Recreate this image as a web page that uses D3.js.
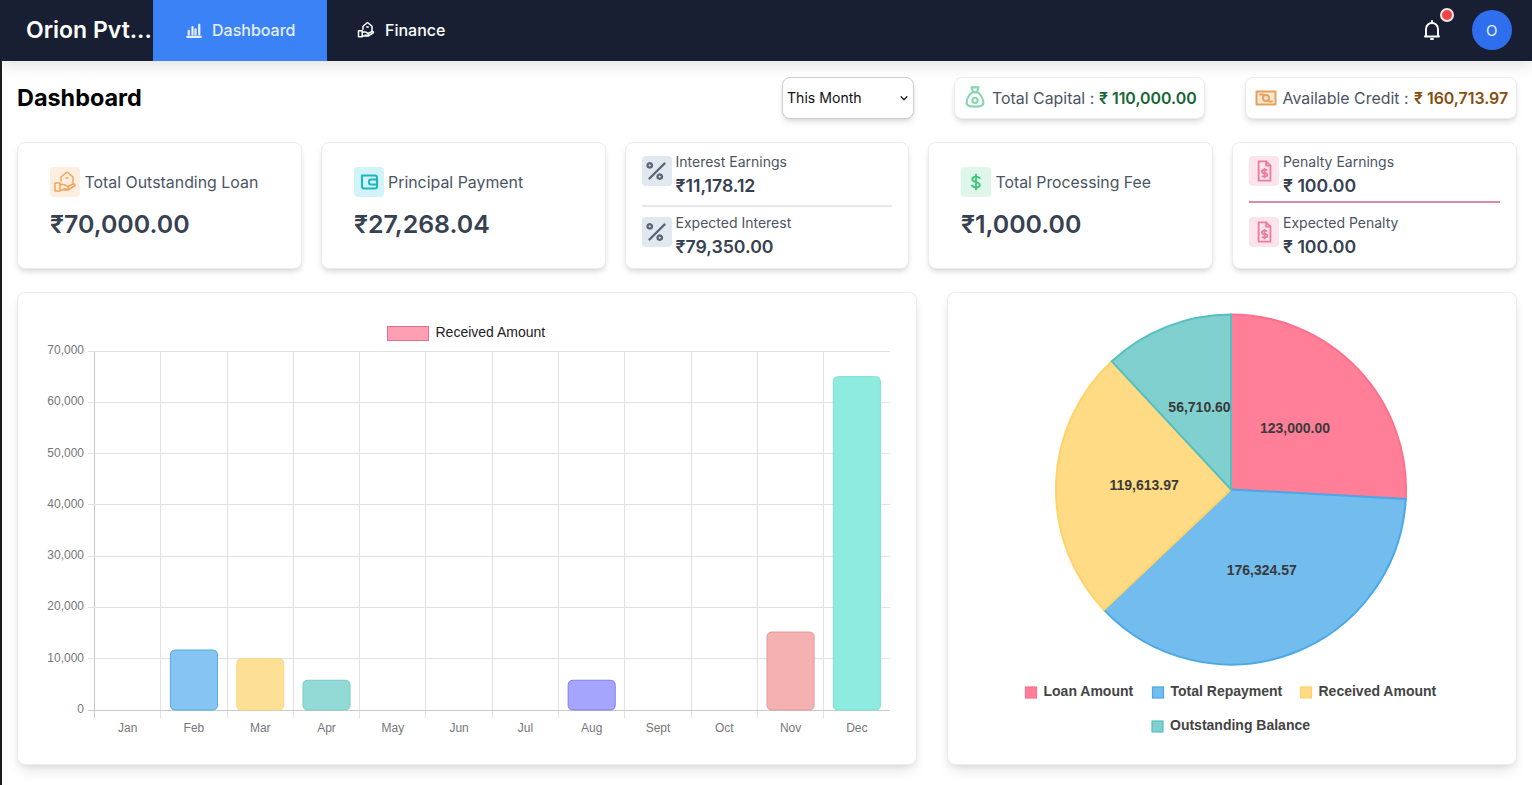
<!DOCTYPE html>
<html><head><meta charset="utf-8"><title>Dashboard</title>
<script src="https://cdn.jsdelivr.net/npm/d3@7/dist/d3.min.js"></script>
<style>
html,body{margin:0;padding:0;width:1532px;height:785px;overflow:hidden;background:#fff;font-family:Inter,"Noto Sans",sans-serif;color:#374151}
#page{position:relative;width:1532px;height:785px;overflow:hidden}
.a{position:absolute;white-space:nowrap;line-height:1}
.card{position:absolute;box-sizing:border-box;background:#fff;border:1px solid #ececf0;border-radius:8px;box-shadow:0 4px 6px -1px rgba(0,0,0,.12),0 2px 4px -2px rgba(0,0,0,.08)}
.ico{position:absolute;border-radius:4px;display:block}
svg text{font-family:"Liberation Sans",Arial,sans-serif}
</style></head><body><div id="page"></div>
<script>
const months=["Jan","Feb","Mar","Apr","May","Jun","Jul","Aug","Sept","Oct","Nov","Dec"];
const receivedValues=[0,11700,10000,5800,0,0,0,5800,0,0,15200,65000];
const barFills=["#ff9fb3","#85c4f3","#fde093","#93d9d6","#c9b3ff","#ffc9a0","#ccc","#a5a5fd","#ffc9a0","#ccc","#f5b0b2","#8decdf"];
const barStrokes=["#ff6384","#5aa9e0","#f9d889","#7ccbc8","#9966ff","#ff9f40","#aaa","#7f7fe8","#ff9f40","#aaa","#e09a9c","#7ee0d3"];
const yTicks=[0,10000,20000,30000,40000,50000,60000,70000];
const pieLabels=["Loan Amount","Total Repayment","Received Amount","Outstanding Balance"];
const pieValues=[123000,176324.57,119613.97,56710.60];
const pieFills=["#ff7f99","#72bcee","#ffdb85","#80d0d0"];
const pieStrokes=["#ff6f8e","#4aa8e6","#ffd36a","#56bfbf"];
const cardTitles=["Total Outstanding Loan","Principal Payment","Interest Earnings","Expected Interest","Total Processing Fee","Penalty Earnings","Expected Penalty"];
const cardValues=["₹70,000.00","₹27,268.04","₹11,178.12","₹79,350.00","₹1,000.00","₹ 100.00","₹ 100.00"];

const page=d3.select("#page");
function div(cls,s){const d=page.append("div").attr("class",cls);Object.entries(s||{}).forEach(([k,v])=>d.style(k,v));return d;}
function txt(t,x,y,size,weight,color,extra){
  return div("a",Object.assign({left:x+"px",top:y+"px","font-size":size+"px","font-weight":weight,color:color},extra||{})).text(t);
}
function icon(x,y,w,h,bg,stroke,paths,sw,vb,fill){
  const s=page.append("svg").attr("class","ico").attr("viewBox",vb||"0 0 24 24")
    .style("left",x+"px").style("top",y+"px").attr("width",w).attr("height",h).style("background",bg);
  paths.forEach(p=>s.append("path").attr("d",p).attr("fill",fill||"none").attr("stroke",stroke).attr("stroke-width",sw||1.6).attr("stroke-linecap","round").attr("stroke-linejoin","round"));
  return s;
}
const homeHand=["M2 13h5v8H2z","M7 14.5h4l4 2.2a1.3 1.3 0 0 1-1 2.3h-3.5","M7 20h8l7-4.5a1.5 1.5 0 0 0-2-1.5l-5 2.5","M8 11V7l6-5 6 5v6","M13 8h2"];
const pct=["M6 18L18 6","M8 7.5a1.8 1.8 0 1 0 0 .01","M16 16.5a1.8 1.8 0 1 0 0 .01"];
const doc=["M7 3h7l4 4v14H7z","M14 3v4h4","M14.5 11h-3a1 1 0 0 0 0 3h2a1 1 0 0 1 0 3h-3M12.5 10v8"];

// nav
div("a",{left:"0",top:"0",width:"1532px",height:"61px",background:"#181f33","box-shadow":"0 4px 14px rgba(0,0,0,.12)"});
div("a",{left:"0",top:"61px",width:"2px",height:"724px",background:"#1d1a20"});
div("a",{left:"153px",top:"0",width:"174px",height:"61px",background:"#3b82f6"});
txt("Orion Pvt...",26,18.5,23,600,"#fff");
txt("Dashboard",212,22,16,500,"#e6efff");
txt("Finance",385,22,16,500,"#fff");
icon(185,21,18,18,"none","#e6efff",["M3 21h18","M5 18v-5","M10 18V8","M14 18v-7","M19 18V5"],3);
icon(357,21,18,18,"none","#fff",homeHand,2);
icon(1420,18,24,24,"none","#fff",["M6 17V11a6 6 0 0 1 12 0v6l1 1.5H5z","M12 3v2","M11 21h2"],1.9);
div("a",{left:"1440px",top:"8px",width:"10px",height:"10px","border-radius":"50%",background:"#ef4444",border:"2px solid #f5e6e6"});
div("a",{left:"1472px",top:"10px",width:"40px",height:"40px","border-radius":"50%",background:"#2f6fed"});
txt("O",1486,23,15,400,"#e6efff");

// header row
txt("Dashboard",17,86,23.4,700,"#000");
div("card",{left:"782px",top:"77px",width:"132px",height:"42px","border-color":"#c9ccd1"});
txt("This Month",787,91,14.1,400,"#111");
icon(897,91,14,14,"none","#222",["M7 10l5 5 5-5"],2.4);
div("card",{left:"954px",top:"77px",width:"251px",height:"42px"});
icon(963,85,24,24,"none","#86d8ac",["M9 4h6l-1.5 4h-3z","M10 8c-3 2-5 6-5 9 0 2 2 3 7 3s7-1 7-3c0-3-2-7-5-9z","M12 17a2.2 2.2 0 1 0 0-4.4 2.2 2.2 0 0 0 0 4.4z"],1.8,"3 2 18 20");
txt("Total Capital : ",992,91,15.9,400,"#4b5563");
txt("₹ 110,000.00",1099,91,15.9,600,"#166534");
div("card",{left:"1245px",top:"77px",width:"272px",height:"42px"});
icon(1254,86,24,24,"none","#e5a15d",["M2.5 5.5h19v13h-19z"],2,"0 0 24 24","#f9e7d0");
icon(1254,86,24,24,"none","#e5a15d",["M6 8.5h3M18 15.5h-3","M12 15a3 3 0 1 0 0-6 3 3 0 0 0 0 6z"],1.9);
txt("Available Credit : ",1282.5,91,15.9,400,"#4b5563");
txt("₹ 160,713.97",1414,91,15.9,600,"#854d0e");

// stat cards
[[17,285],[321,285],[625,284],[928,285],[1232,285]].forEach(([x,w])=>div("card",{left:x+"px",top:"142px",width:w+"px",height:"127px"}));
// card 1
icon(50,167,30,30,"#feeee0","#f3a45c",homeHand,1.5,"-3 -3 30 30");
txt(cardTitles[0],84.5,175,15.9,400,"#4b5563");
txt(cardValues[0],50,212,24.9,600,"#374151");
// card 2
icon(354,167,30,30,"#d2f3f8","#1fb5c2",["M5 6h13a2 2 0 0 1 2 2v9a2 2 0 0 1-2 2H7a2 2 0 0 1-2-2z","M20 10h-6a2 2 0 0 0-2 2v1a2 2 0 0 0 2 2h6z"],2.1,"-3 -2.5 30 30");
txt(cardTitles[1],388,175,15.9,400,"#4b5563");
txt(cardValues[1],354,212,24.9,600,"#374151");
// card 3
icon(642,156,30,30,"#e2e8f0","#5a6472",pct,1.9);
txt(cardTitles[2],675.5,155,14,400,"#4b5563");
txt(cardValues[2],675.5,176.5,17.7,600,"#374151");
div("a",{left:"642px",top:"205px",width:"250px",height:"2px",background:"#e5e7eb"});
icon(642,217,30,30,"#e2e8f0","#5a6472",pct,1.9);
txt(cardTitles[3],675.5,216,14,400,"#4b5563");
txt(cardValues[3],675.5,237.5,17.7,600,"#374151");
// card 4
icon(961,167,30,30,"#dff7e8","#3cc47c",["M12 3v18","M16.5 7.5C15.5 6 14 5.5 12 5.5c-2.5 0-4.5 1.2-4.5 3.2 0 4.5 9 2.4 9 6.8 0 2-2 3-4.5 3-2.2 0-3.9-.7-4.8-2.2"],2.2,"-6 -6 36 36");
txt(cardTitles[4],995.5,175,15.8,400,"#4b5563");
txt(cardValues[4],961,212,24.9,600,"#374151");
// card 5
icon(1249,156,30,30,"#fde3ec","#ea7d9e",doc,1.7,"-2 -2 28 28");
txt(cardTitles[5],1283,155,14,400,"#4b5563");
txt(cardValues[5],1283,176.5,17.7,600,"#374151");
div("a",{left:"1249px",top:"201px",width:"251px",height:"2px",background:"#d98da5"});
icon(1249,217,30,30,"#fde3ec","#ea7d9e",doc,1.7,"-2 -2 28 28");
txt(cardTitles[6],1283,216,14,400,"#4b5563");
txt(cardValues[6],1283,237.5,17.7,600,"#374151");

// chart cards
div("card",{left:"17px",top:"292px",width:"900px",height:"473px","box-shadow":"0 8px 14px -4px rgba(0,0,0,.13),0 2px 4px rgba(0,0,0,.05)"});
div("card",{left:"947px",top:"292px",width:"570px",height:"473px","box-shadow":"0 8px 14px -4px rgba(0,0,0,.13),0 2px 4px rgba(0,0,0,.05)"});

const svg=page.append("svg").attr("width",1532).attr("height",785).style("position","absolute").style("left",0).style("top",0);

// bar chart
const x=d3.scaleBand().domain(months).range([94.5,890]).paddingInner(0).paddingOuter(0);
const y=d3.scaleLinear().domain([0,70000]).range([710,351]);
const g=svg.append("g");
g.selectAll(".vg").data(months.map(m=>x(m))).join("line")
  .attr("x1",d=>d).attr("x2",d=>d).attr("y1",351).attr("y2",718)
  .attr("stroke",(d,i)=>i==0?"#c9c9c9":"#e2e2e2").attr("shape-rendering","crispEdges");
g.selectAll(".hg").data(yTicks).join("line")
  .attr("x1",88).attr("x2",890).attr("y1",d=>y(d)).attr("y2",d=>y(d))
  .attr("stroke",d=>d==0?"#c9c9c9":"#e2e2e2").attr("shape-rendering","crispEdges");
g.selectAll(".yt").data(yTicks).join("text")
  .attr("x",84).attr("y",d=>y(d)+3).attr("text-anchor","end").attr("font-size",12).attr("fill","#777")
  .text(d=>d3.format(",")(d));
g.selectAll(".xt").data(months).join("text")
  .attr("x",d=>x(d)+x.bandwidth()/2).attr("y",732).attr("text-anchor","middle").attr("font-size",12).attr("fill","#777")
  .text(d=>d);
const bw=x.bandwidth()*0.71;
function barPath(x0,w,top,bot,r){
  r=Math.min(r,(bot-top)/2);
  return `M${x0+r},${top}H${x0+w-r}Q${x0+w},${top} ${x0+w},${top+r}V${bot-r}Q${x0+w},${bot} ${x0+w-r},${bot}H${x0+r}Q${x0},${bot} ${x0},${bot-r}V${top+r}Q${x0},${top} ${x0+r},${top}Z`;
}
g.selectAll(".bar").data(months.map((m,i)=>({m,v:receivedValues[i],i})).filter(d=>d.v>0)).join("path")
  .attr("d",d=>barPath(x(d.m)+(x.bandwidth()-bw)/2,bw,y(d.v),710,5))
  .attr("fill",d=>barFills[d.i]).attr("stroke",d=>barStrokes[d.i]).attr("stroke-width",1);
g.append("rect").attr("x",387.5).attr("y",326.5).attr("width",41).attr("height",14).attr("fill","#ff9fb3").attr("stroke","#e0708a");
g.append("text").attr("x",435.5).attr("y",337).attr("font-size",14).attr("fill","#222").text("Received Amount");

// pie
const cx=1231,cy=489.5,R=175;
const pie=d3.pie().sort(null).value(d=>d)(pieValues);
const arc=d3.arc().innerRadius(0).outerRadius(R);
const pg=svg.append("g").attr("transform",`translate(${cx},${cy})`);
pg.selectAll("path").data(pie).join("path").attr("d",arc)
  .attr("fill",(d,i)=>pieFills[i]).attr("stroke",(d,i)=>pieStrokes[i]).attr("stroke-width",2);
pg.selectAll("text").data(pie).join("text")
  .attr("transform",d=>{const c=arc.centroid(d);return `translate(${c[0]+0.5},${c[1]+3.5})`;})
  .attr("text-anchor","middle").attr("font-size",14).attr("font-weight",700).attr("fill","#3a3a3a")
  .text(d=>d3.format(",.2f")(d.value));

// pie legend
const legX=[1025.5,1152.5,1300.5,1152],legY=[687,687,687,721];
const lg=svg.append("g");
lg.selectAll("rect").data(pieLabels).join("rect")
  .attr("x",(d,i)=>legX[i]).attr("y",(d,i)=>legY[i]).attr("width",11).attr("height",11)
  .attr("fill",(d,i)=>pieFills[i]).attr("stroke",(d,i)=>pieStrokes[i]).attr("stroke-width",1.2);
lg.selectAll("text").data(pieLabels).join("text")
  .attr("x",(d,i)=>legX[i]+18).attr("y",(d,i)=>legY[i]+9).attr("font-size",14).attr("font-weight",700).attr("fill","#444")
  .text(d=>d);
</script></body></html>
